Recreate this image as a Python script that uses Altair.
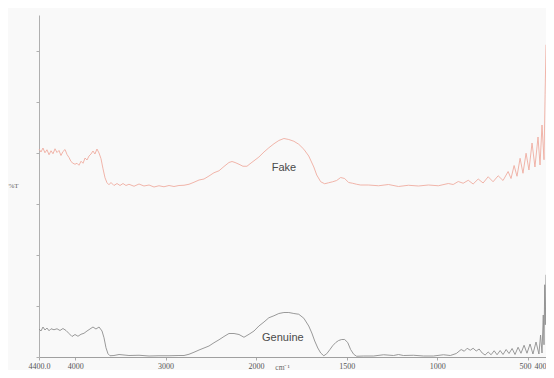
import altair as alt
import pandas as pd

# wavenumber (cm-1) and %T readings, Fake sample
fake_wn = [4400, 4378, 4356, 4334, 4312, 4289, 4267, 4245, 4223, 4201,
           4179, 4157, 4135, 4112, 4090, 4068, 4046, 4024, 4002, 3980,
           3958, 3935, 3913, 3891, 3869, 3847, 3825, 3803, 3781, 3759,
           3736, 3714, 3692, 3670, 3648, 3626, 3604, 3571, 3537, 3504,
           3471, 3438, 3405, 3349, 3294, 3239, 3183, 3128, 3073, 3018,
           2962, 2907, 2852, 2796, 2741, 2686, 2630, 2575, 2520, 2465,
           2409, 2354, 2299, 2265, 2232, 2188, 2144, 2100, 2055, 2011,
           1984, 1956, 1929, 1901, 1874, 1846, 1819, 1791, 1764, 1736,
           1709, 1681, 1665, 1643, 1621, 1599, 1577, 1555, 1533, 1511,
           1489, 1467, 1445, 1423, 1379, 1324, 1269, 1214, 1159, 1104,
           1049, 994, 939, 912, 884, 857, 829, 802, 774, 747,
           719, 692, 664, 637, 609, 593, 576, 560, 543, 527,
           510, 494, 477, 461, 444, 433, 422, 411, 405, 400]
fake_t = [83.2, 82.0, 83.6, 81.7, 82.9, 80.9, 82.5, 81.3, 83.3, 81.8,
          82.6, 80.6, 82.2, 83.0, 81.0, 79.8, 78.2, 77.5, 77.1, 77.5,
          76.7, 78.3, 77.5, 79.6, 78.8, 80.4, 81.2, 82.4, 81.2, 83.2,
          81.6, 79.3, 75.3, 71.7, 69.7, 68.9, 69.8, 68.6, 69.4, 68.6,
          69.4, 68.6, 69.1, 68.3, 69.2, 68.4, 68.8, 68.0, 68.5, 68.1,
          68.6, 68.2, 68.6, 68.7, 69.1, 69.9, 70.8, 71.2, 72.4, 73.7,
          74.5, 76.2, 77.8, 78.2, 77.8, 77.1, 76.3, 76.3, 77.6, 78.8,
          80.0, 82.0, 83.7, 85.3, 86.6, 87.4, 87.0, 86.3, 85.1, 83.1,
          80.4, 76.0, 72.8, 70.1, 69.3, 69.7, 70.1, 70.6, 71.8, 71.4,
          69.8, 69.5, 69.1, 68.8, 68.8, 68.5, 69.0, 68.2, 68.7, 68.4,
          68.8, 68.5, 69.4, 69.0, 70.2, 69.5, 70.7, 69.2, 71.2, 69.6,
          72.1, 70.1, 72.5, 70.6, 74.2, 71.4, 76.6, 72.3, 79.5, 73.5,
          81.5, 74.8, 85.6, 76.0, 88.0, 76.8, 92.8, 78.9, 104.9, 124.9]

# Genuine sample
gen_wn = [4400, 4378, 4356, 4334, 4312, 4289, 4267, 4234, 4201, 4168,
          4135, 4101, 4068, 4035, 4002, 3969, 3935, 3902, 3869, 3836,
          3803, 3770, 3736, 3703, 3681, 3659, 3637, 3615, 3571, 3515,
          3405, 3294, 3183, 3073, 2962, 2852, 2796, 2741, 2686, 2630,
          2575, 2520, 2465, 2409, 2354, 2299, 2243, 2188, 2133, 2077,
          2022, 1984, 1956, 1929, 1901, 1874, 1846, 1819, 1791, 1764,
          1736, 1709, 1692, 1676, 1659, 1643, 1626, 1610, 1593, 1577,
          1560, 1544, 1527, 1511, 1494, 1478, 1461, 1445, 1406, 1351,
          1296, 1241, 1214, 1187, 1131, 1076, 1021, 966, 928, 895,
          868, 851, 835, 818, 802, 785, 769, 752, 736, 719,
          703, 686, 670, 653, 637, 620, 604, 587, 571, 554,
          538, 521, 505, 488, 472, 455, 439, 430, 422, 415,
          411, 407, 404, 400]
gen_t = [11.2, 10.4, 12.0, 10.8, 11.6, 10.5, 11.3, 10.9, 11.3, 10.6,
         11.4, 10.6, 9.4, 8.2, 9.0, 8.3, 9.1, 9.5, 10.4, 11.2,
         12.0, 11.2, 12.0, 10.4, 7.7, 3.7, 1.3, 0.5, 0.6, 1.0,
         0.6, 0.7, 0.4, 0.5, 0.5, 0.6, 0.6, 1.1, 1.9, 2.8,
         3.6, 4.4, 5.7, 6.9, 8.2, 9.4, 9.4, 9.0, 7.9, 9.1,
         10.4, 12.4, 14.0, 15.7, 16.5, 17.4, 17.8, 17.8, 17.4, 17.1,
         15.5, 12.4, 9.6, 6.4, 3.6, 1.6, 0.5, 1.3, 2.9, 4.5,
         5.8, 6.6, 7.0, 7.0, 5.8, 3.0, 1.1, 0.3, 0.4, 0.4,
         0.9, 0.6, 1.0, 0.6, 0.7, 0.4, 0.4, 0.9, 0.6, 1.4,
         3.0, 2.3, 3.5, 2.7, 3.5, 2.4, 3.2, 1.6, 0.8, 2.0,
         0.9, 2.5, 0.9, 2.6, 1.0, 3.0, 1.4, 3.4, 1.0, 3.9,
         1.5, 4.7, 1.5, 5.2, 1.2, 6.0, 1.2, 8.8, 1.6, 16.8,
         4.9, 28.9, 12.9, 32.9]

series_names = ["Fake", "Genuine"]
series_colors = ["#efada0", "#8e8e8e"]
label_wn = [1846, 1852]
label_t = [75.8, 7.8]

x_ticks = [4400, 4000, 3000, 2000, 1500, 1000, 500, 400]
y_ticks = [0, 10.2, 20.4, 30.6, 40.8, 51.0, 61.2, 71.4, 81.6, 91.8, 102.0, 112.2, 122.4, 132.6]

df = pd.DataFrame({
    "wn": fake_wn + gen_wn,
    "t": fake_t + gen_t,
    "series": ["Fake"] * len(fake_wn) + ["Genuine"] * len(gen_wn),
    "idx": list(range(len(fake_wn))) + list(range(len(gen_wn))),
})
labels_df = pd.DataFrame({"wn": label_wn, "t": label_t, "text": series_names})

x_scale = alt.Scale(domain=[4400, 2000, 400], range=[0, 217, 507], zero=False, nice=False)
y_scale = alt.Scale(domain=[0, 136.8], zero=False, nice=False)

x_axis = alt.Axis(
    values=x_ticks, format="d",
    labelExpr="datum.value == 4400 ? '4400.0' : datum.label",
    labelAlign={"condition": {"test": "datum.value == 400", "value": "right"}, "value": "center"},
    labelOffset={"condition": {"test": "datum.value == 500", "value": -3}, "value": 0},
    labelFont="Liberation Serif", labelFontSize=8, labelColor="#555555",
    labelOverlap=False, labelFlush=False, labelPadding=2,
    tickSize=3, tickColor="#aaaaaa", domainColor="#a0a0a0", grid=False,
    title="cm⁻¹", titleFont="Liberation Serif", titleFontSize=7.5,
    titleFontWeight="normal", titleColor="#666666", titleX=243, titleY=6,
)
y_axis = alt.Axis(
    values=y_ticks, labels=False, tickSize=3, tickColor="#b0b0b0",
    domainColor="#b0b0b0", grid=False,
    title="%T", titleAngle=0, titleX=-26, titleY=170,
    titleFont="Liberation Serif", titleFontSize=7, titleFontWeight="normal",
    titleColor="#666666", titleAlign="center", titleBaseline="middle",
)

lines = alt.Chart(df).mark_line(strokeWidth=0.9).encode(
    x=alt.X("wn:Q", scale=x_scale, axis=x_axis),
    y=alt.Y("t:Q", scale=y_scale, axis=y_axis),
    color=alt.Color("series:N", scale=alt.Scale(domain=series_names, range=series_colors), legend=None),
    order=alt.Order("idx:Q"),
)

texts = alt.Chart(labels_df).mark_text(
    font="Liberation Sans", fontSize=11, color="#4a4a4a"
).encode(
    x=alt.X("wn:Q", scale=x_scale),
    y=alt.Y("t:Q", scale=y_scale),
    text="text:N",
)

chart = alt.layer(lines, texts).properties(
    width=507, height=342,
    autosize=alt.AutoSizeParams(type="none"),
    padding={"left": 31, "top": 7, "right": 0, "bottom": 13},
    background="#f9f9f9",
).configure_view(stroke=None)

chart.save("out.html", embed_options={"renderer": "svg", "actions": False})
